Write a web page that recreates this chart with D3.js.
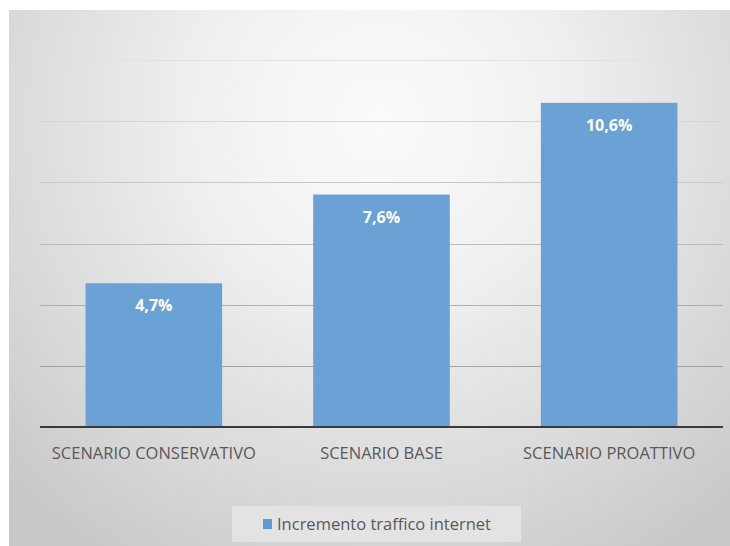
<!DOCTYPE html>
<html>
<head>
<meta charset="utf-8">
<script src="https://cdn.jsdelivr.net/npm/d3@7"></script>
<style>
	html, body { margin: 0; padding: 0; background: #fff; }
	text { font-family: 'Open Sans', 'Noto Sans', sans-serif; }
</style>
</head>
<body>
<div id="chart"></div>
<script>
// our data
const categories = ['SCENARIO CONSERVATIVO', 'SCENARIO BASE', 'SCENARIO PROATTIVO']
const values = [4.7, 7.6, 10.6]
const labels = ['4,7%', '7,6%', '10,6%']
const seriesName = 'Incremento traffico internet'
const gridTicks = [0, 2, 4, 6, 8, 10, 12]

const width = 730
const height = 546

const $svg = d3.select('#chart')
	.append('svg')
	.attr('width', width)
	.attr('height', height)

// background gradient, near white at the top centre, grey towards the edges
const defs = $svg.append('defs')
const grad = defs.append('radialGradient')
	.attr('id', 'bg')
	.attr('gradientUnits', 'userSpaceOnUse')
	.attr('cx', 380).attr('cy', 120)
	.attr('r', 520)
grad.append('stop').attr('offset', '0%').attr('stop-color', '#fbfbfb')
grad.append('stop').attr('offset', '35%').attr('stop-color', '#f0f0f0')
grad.append('stop').attr('offset', '75%').attr('stop-color', '#d8d8d8')
grad.append('stop').attr('offset', '100%').attr('stop-color', '#c8c8c8')

$svg.append('rect')
	.attr('x', 9).attr('y', 10)
	.attr('width', width - 9).attr('height', height - 10)
	.attr('fill', 'url(#bg)')

// plot area
const plot = {left: 40, right: 723, top: 60, bottom: 427}

const x = d3.scaleBand()
	.domain(categories)
	.range([plot.left, plot.right])
	.paddingInner(0.4)
	.paddingOuter(0.2)

const y = d3.scaleLinear()
	.domain([0, 12])
	.range([plot.bottom, plot.top])

// gridlines get darker towards the bottom like the shaded original
const gridColor = d3.scaleLinear()
	.domain([2, 12])
	.range(['#a4a4a4', '#e2e2e2'])

$svg.append('g')
	.selectAll('line')
	.data(gridTicks.filter(d => d > 0))
	.join('line')
		.attr('x1', plot.left)
		.attr('x2', plot.right)
		.attr('y1', d => Math.round(y(d)) + 0.5)
		.attr('y2', d => Math.round(y(d)) + 0.5)
		.attr('stroke', d => gridColor(d))
		.attr('stroke-width', 1)

// bars
const data = categories.map((c, i) => ({cat: c, value: values[i], label: labels[i]}))

$svg.append('g')
	.selectAll('rect')
	.data(data)
	.join('rect')
		.attr('x', d => x(d.cat))
		.attr('y', d => y(d.value))
		.attr('width', x.bandwidth())
		.attr('height', d => y(0) - y(d.value))
		.attr('fill', '#6aa2d6')

// data labels
$svg.append('g')
	.selectAll('text')
	.data(data)
	.join('text')
		.attr('x', d => x(d.cat) + x.bandwidth() / 2)
		.attr('y', d => y(d.value) + 28)
		.attr('text-anchor', 'middle')
		.attr('fill', '#fff')
		.attr('font-weight', 'bold')
		.attr('font-size', 16)
		.text(d => d.label)

// baseline axis
const xAxis = $svg.append('g')
	.attr('transform', `translate(0, ${plot.bottom})`)
	.call(d3.axisBottom(x).tickSize(0).tickPadding(18))

xAxis.select('.domain')
	.attr('stroke', '#3a3a3a')
	.attr('stroke-width', 2)
	.attr('d', `M${plot.left},0H${plot.right}`)

xAxis.selectAll('text')
	.attr('font-family', "'Open Sans', sans-serif")
	.attr('font-size', 16.5)
	.attr('fill', '#595959')
	.attr('dy', null)
	.attr('y', 32)

// legend
const legend = $svg.append('g')
legend.append('rect')
	.attr('x', 232).attr('y', 506)
	.attr('width', 289).attr('height', 36)
	.attr('fill', '#e3e3e3')

legend.append('rect')
	.attr('x', 263).attr('y', 519)
	.attr('width', 9).attr('height', 10)
	.attr('fill', '#5b9bd5')

legend.append('text')
	.attr('x', 277).attr('y', 530)
	.attr('font-size', 16.5)
	.attr('fill', '#595959')
	.text(seriesName)
</script>
</body>
</html>
